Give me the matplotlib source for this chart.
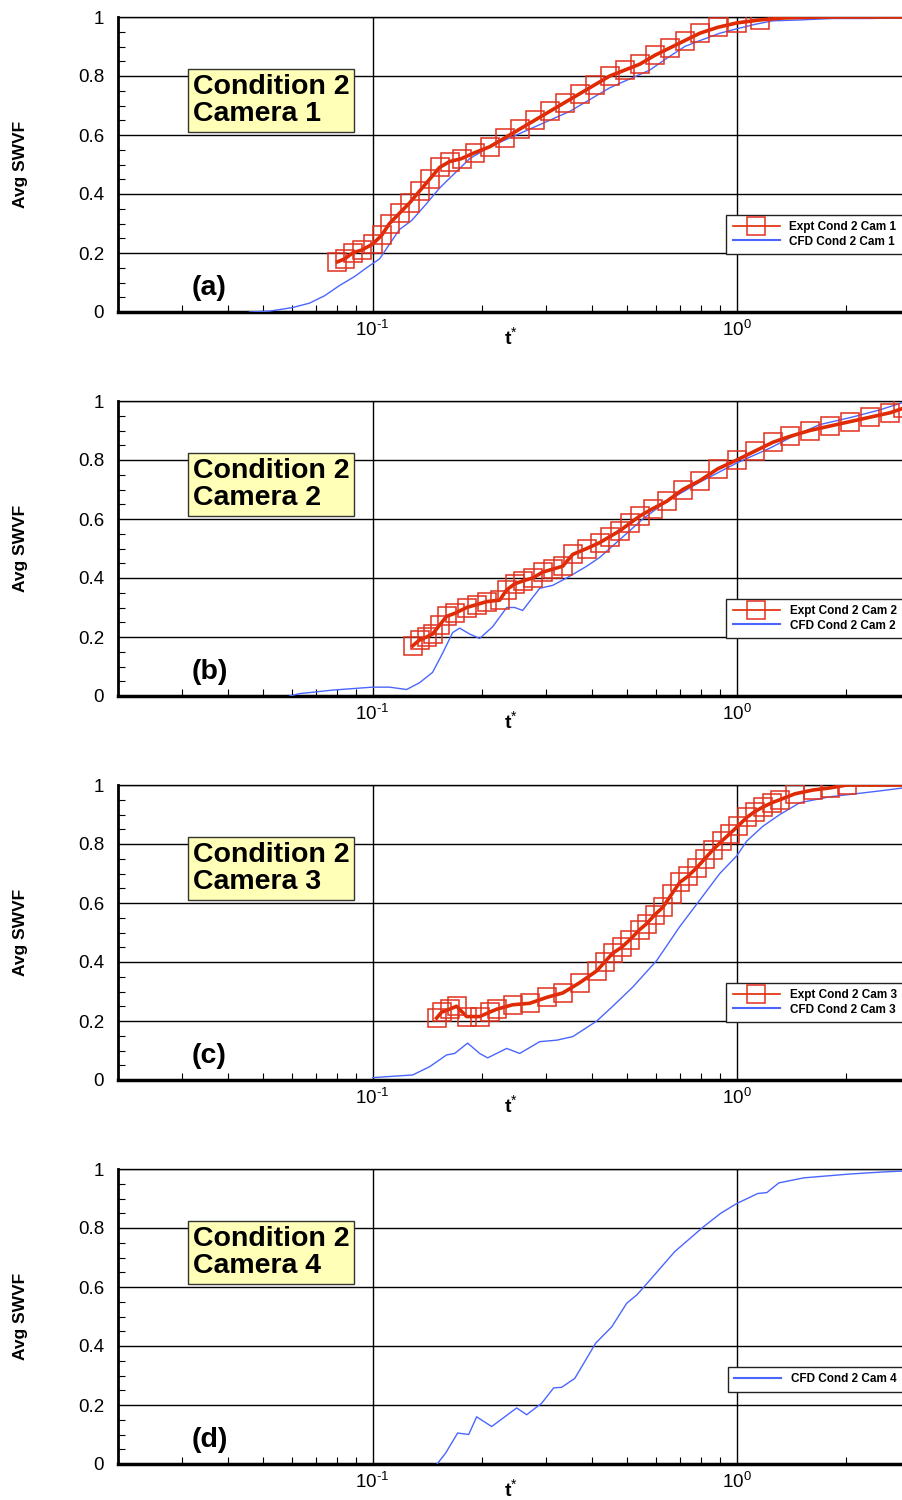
import math
import matplotlib
matplotlib.use("Agg")
import matplotlib.pyplot as plt
from matplotlib.lines import Line2D
from matplotlib.ticker import LogLocator, MultipleLocator, NullFormatter

plt.rcParams['font.family'] = ['Liberation Sans', 'DejaVu Sans']
plt.rcParams['mathtext.fontset'] = 'custom'
plt.rcParams['mathtext.rm'] = 'Liberation Sans'
plt.rcParams['mathtext.bf'] = 'Liberation Sans:bold'
plt.rcParams['mathtext.it'] = 'Liberation Sans:italic'

# ---------------- data ----------------
cam1_expt_t = [0.0801, 0.0838, 0.0881, 0.0933, 0.100, 0.1059, 0.1113, 0.1186, 0.1264, 0.1346,
               0.1434, 0.1527, 0.1627, 0.1755, 0.1906, 0.2096, 0.2305, 0.2535, 0.2787, 0.3064,
               0.3369, 0.3706, 0.4073, 0.4479, 0.4925, 0.5414, 0.5953, 0.6545, 0.7197, 0.7916,
               0.8867, 1.000, 1.157, 1.355, 1.69, 2.32, 2.86]
cam1_expt_y = [0.17, 0.18, 0.20, 0.21, 0.23, 0.26, 0.30, 0.335, 0.37, 0.41,
               0.45, 0.49, 0.51, 0.52, 0.54, 0.56, 0.59, 0.62, 0.65, 0.68,
               0.71, 0.74, 0.77, 0.80, 0.82, 0.84, 0.87, 0.895, 0.92, 0.945,
               0.965, 0.98, 0.99, 0.997, 1.0, 1.0, 1.0]
cam1_cfd_t = [0.0459, 0.0521, 0.0603, 0.0671, 0.0738, 0.0812, 0.0892, 0.0963, 0.1045, 0.1113,
              0.1186, 0.1280, 0.1390, 0.1527, 0.168, 0.1848, 0.2096, 0.2379, 0.27, 0.3064,
              0.3477, 0.3947, 0.4479, 0.5082, 0.5768, 0.6423, 0.7197, 0.7916, 0.8981, 1.000,
              1.121, 1.256, 1.49, 1.835, 2.32, 2.86]
cam1_cfd_y = [0.0, 0.003, 0.015, 0.03, 0.055, 0.09, 0.12, 0.15, 0.18, 0.23,
              0.28, 0.31, 0.36, 0.42, 0.47, 0.52, 0.56, 0.59, 0.62, 0.65,
              0.68, 0.72, 0.76, 0.79, 0.82, 0.86, 0.90, 0.92, 0.945, 0.96,
              0.975, 0.987, 0.99, 0.995, 0.995, 0.997]

cam2_expt_t = [0.1288, 0.1346, 0.1407, 0.1461, 0.1527, 0.1597, 0.168, 0.1813, 0.1931, 0.2057,
               0.2234, 0.2335, 0.2456, 0.2583, 0.2752, 0.2931, 0.3122, 0.3327, 0.3545, 0.3873,
               0.4205, 0.4479, 0.4771, 0.5082, 0.5414, 0.5878, 0.6423, 0.7107, 0.7916, 0.8867,
               1.000, 1.121, 1.256, 1.398, 1.587, 1.80, 2.044, 2.32, 2.633, 2.86]
cam2_expt_y = [0.17, 0.19, 0.20, 0.21, 0.24, 0.27, 0.28, 0.30, 0.31, 0.32,
               0.325, 0.36, 0.38, 0.39, 0.40, 0.42, 0.43, 0.44, 0.48, 0.50,
               0.52, 0.54, 0.56, 0.585, 0.61, 0.635, 0.66, 0.70, 0.73, 0.77,
               0.80, 0.83, 0.86, 0.88, 0.90, 0.915, 0.93, 0.945, 0.96, 0.975]
cam2_cfd_t = [0.0592, 0.063, 0.0776, 0.100, 0.1113, 0.124, 0.1346, 0.1461, 0.1557, 0.1659,
              0.1734, 0.1848, 0.1968, 0.2137, 0.2335, 0.2456, 0.2583, 0.2877, 0.3122, 0.3412,
              0.3873, 0.4205, 0.4771, 0.5519, 0.6423, 0.7916, 1.000, 1.232, 1.398, 1.69,
              2.084, 2.471, 2.86]
cam2_cfd_y = [0.0, 0.008, 0.02, 0.03, 0.03, 0.022, 0.045, 0.08, 0.145, 0.215,
              0.23, 0.21, 0.195, 0.235, 0.30, 0.30, 0.29, 0.365, 0.375, 0.40,
              0.44, 0.47, 0.53, 0.60, 0.66, 0.725, 0.79, 0.84, 0.875, 0.92,
              0.946, 0.97, 0.995]

cam3_expt_t = [0.1499, 0.1547, 0.1627, 0.1701, 0.1813, 0.1968, 0.2096, 0.2192, 0.2425, 0.27,
               0.3006, 0.3327, 0.3706, 0.4126, 0.4339, 0.4565, 0.4831, 0.5082, 0.5414, 0.5658,
               0.5953, 0.626, 0.6627, 0.6973, 0.7333, 0.7767, 0.8168, 0.8593, 0.9096, 0.9567,
               1.006, 1.065, 1.121, 1.179, 1.248, 1.313, 1.443, 1.618, 1.80, 2.005, 2.32, 2.86]
cam3_expt_y = [0.21, 0.23, 0.24, 0.25, 0.215, 0.215, 0.23, 0.24, 0.255, 0.26,
               0.28, 0.295, 0.33, 0.37, 0.40, 0.43, 0.45, 0.475, 0.51, 0.53,
               0.56, 0.585, 0.63, 0.67, 0.69, 0.72, 0.75, 0.78, 0.81, 0.835,
               0.86, 0.89, 0.91, 0.925, 0.94, 0.95, 0.97, 0.983, 0.99, 1.0, 1.0, 1.0]
cam3_cfd_t = [0.100, 0.1288, 0.1434, 0.1597, 0.168, 0.1824, 0.1968, 0.207, 0.2335, 0.2535,
              0.2877, 0.3202, 0.3545, 0.4126, 0.4565, 0.518, 0.6028, 0.6973, 0.7916, 0.8981,
              1.000, 1.065, 1.179, 1.313, 1.49, 1.80, 2.471, 2.86]
cam3_cfd_y = [0.008, 0.017, 0.045, 0.085, 0.09, 0.125, 0.09, 0.075, 0.107, 0.09,
              0.13, 0.135, 0.147, 0.20, 0.25, 0.315, 0.405, 0.52, 0.61, 0.70,
              0.76, 0.81, 0.86, 0.90, 0.94, 0.96, 0.98, 0.99]

cam4_cfd_t = [0.1504, 0.1587, 0.1712, 0.1836, 0.1931, 0.2123, 0.2487, 0.2649, 0.2913, 0.3142,
              0.3305, 0.359, 0.41, 0.4536, 0.4987, 0.5313, 0.5623, 0.6755, 0.8116, 0.9036,
              1.000, 1.142, 1.209, 1.305, 1.528, 2.044, 2.518, 2.86]
cam4_cfd_y = [0.0, 0.037, 0.105, 0.10, 0.16, 0.127, 0.19, 0.167, 0.206, 0.258,
              0.26, 0.29, 0.41, 0.465, 0.545, 0.573, 0.607, 0.72, 0.805, 0.85,
              0.883, 0.917, 0.92, 0.953, 0.97, 0.983, 0.99, 0.993]

panel_letters = ['(a)', '(b)', '(c)', '(d)']
box_texts = ['Condition 2\nCamera 1', 'Condition 2\nCamera 2',
             'Condition 2\nCamera 3', 'Condition 2\nCamera 4']
expt_labels = ['Expt Cond 2 Cam 1', 'Expt Cond 2 Cam 2', 'Expt Cond 2 Cam 3', None]
cfd_labels = ['CFD Cond 2 Cam 1', 'CFD Cond 2 Cam 2', 'CFD Cond 2 Cam 3', 'CFD Cond 2 Cam 4']
expt_t = [cam1_expt_t, cam2_expt_t, cam3_expt_t, None]
expt_y = [cam1_expt_y, cam2_expt_y, cam3_expt_y, None]
cfd_t = [cam1_cfd_t, cam2_cfd_t, cam3_cfd_t, cam4_cfd_t]
cfd_y = [cam1_cfd_y, cam2_cfd_y, cam3_cfd_y, cam4_cfd_y]
marker_tmax = [1.3, 3.0, 2.1, None]

RED = '#e02a00'
SQ = '#e0301e'
BLUE = '#4a66ff'
YELLOW = '#ffffb8'

W, H = 903, 1500
fig = plt.figure(figsize=(W / 100, H / 100), dpi=100)

ax_left = 118
ax_tops = [17, 401, 785, 1169]
ax_h = 295


def ytick_fmt(v, p):
    return '%g' % round(v, 2)


def xtick_fmt(v, p):
    e = int(round(math.log10(v)))
    return r'$10^{%s}$' % (('\u2010%d' % -e) if e < 0 else str(e))


for i in range(4):
    top = ax_tops[i]
    ax = fig.add_axes([ax_left / W, 1 - (top + ax_h) / H, (W - ax_left) / W, ax_h / H])
    ax.set_xscale('log')
    ax.set_xlim(0.02, 2.86)
    ax.set_ylim(0, 1)

    handles = []
    if expt_t[i] is not None:
        idx = [k for k, t in enumerate(expt_t[i]) if t <= marker_tmax[i]]
        ax.plot(expt_t[i], expt_y[i], color=RED, lw=2.6, zorder=4)
        ax.plot([expt_t[i][k] for k in idx], [expt_y[i][k] for k in idx], ls='none',
                marker='s', ms=13.5, mfc='none', mec=SQ, mew=1.1, zorder=4)
        handles.append(Line2D([], [], color=RED, lw=1.2, marker='s', ms=13.5,
                              mfc='none', mec=SQ, mew=1.1, label=expt_labels[i]))
    ax.plot(cfd_t[i], cfd_y[i], color=BLUE, lw=1.0, zorder=3)
    handles.append(Line2D([], [], color=BLUE, lw=1.5, label=cfd_labels[i]))

    ax.xaxis.set_major_locator(LogLocator(base=10, numticks=10))
    ax.xaxis.set_minor_locator(LogLocator(base=10, subs=range(2, 10), numticks=20))
    ax.xaxis.set_minor_formatter(NullFormatter())
    ax.xaxis.set_major_formatter(plt.FuncFormatter(xtick_fmt))
    ax.yaxis.set_major_locator(MultipleLocator(0.2))
    ax.yaxis.set_minor_locator(MultipleLocator(0.05))
    ax.yaxis.set_major_formatter(plt.FuncFormatter(ytick_fmt))
    ax.grid(True, which='major', color='black', lw=1.0, zorder=1)
    ax.set_axisbelow(True)

    ax.tick_params(which='both', direction='in', top=False, right=False,
                   labelsize=13.5, color='black')
    ax.tick_params(which='major', length=0, pad=10)
    ax.tick_params(which='minor', length=5, width=0.8)
    ax.tick_params(axis='x', which='major', pad=6)

    ax.spines['right'].set_visible(False)
    ax.spines['top'].set_linewidth(1.0)
    ax.spines['left'].set_linewidth(2.0)
    ax.spines['bottom'].set_linewidth(2.5)

    ax.set_ylabel('Avg SWVF', fontsize=12.5, fontweight='bold', labelpad=36)
    ax.set_xlabel(r'$\mathbf{t}^{*}$', fontsize=14, labelpad=-10)

    ax.text(0.0955, 0.717, box_texts[i], transform=ax.transAxes, ha='left', va='center',
            fontsize=20.5, fontweight='bold', linespacing=1.08, zorder=6,
            bbox=dict(boxstyle='square,pad=0.16', fc=YELLOW, ec='#333333', lw=1.0))
    ax.text(0.094, 0.081, panel_letters[i], transform=ax.transAxes, ha='left',
            va='center', fontsize=20.5, fontweight='bold', zorder=6)

    leg = ax.legend(handles=handles, loc='upper right', bbox_to_anchor=(1.0, 0.33),
                    borderaxespad=0, fancybox=False, framealpha=1, edgecolor='#222222',
                    prop={'size': 8.5, 'weight': 'bold'}, handlelength=4.0,
                    handletextpad=0.8, borderpad=0.55, labelspacing=0.2)
    leg.get_frame().set_linewidth(1.0)
    leg.set_zorder(7)

fig.savefig('out.png', dpi=100)
